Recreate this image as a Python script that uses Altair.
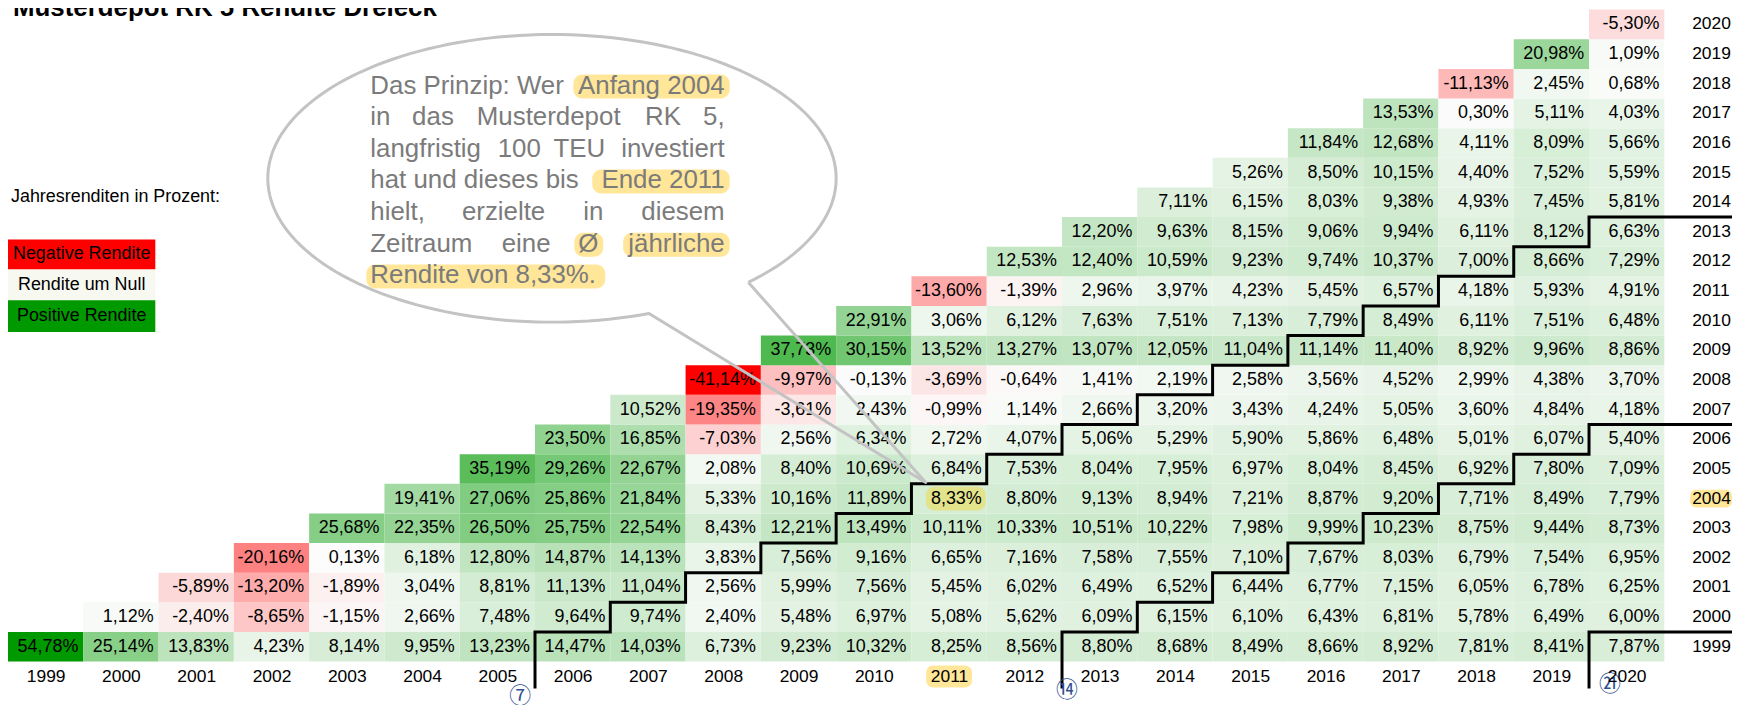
import math
import altair as alt
import pandas as pd

# ---------------- data ----------------
YEARS = list(range(1999, 2021))

r1999 = [54.78, 25.14, 13.83, 4.23, 8.14, 9.95, 13.23, 14.47, 14.03, 6.73, 9.23, 10.32, 8.25, 8.56, 8.80, 8.68, 8.49, 8.66, 8.92, 7.81, 8.41, 7.87]
r2000 = [1.12, -2.40, -8.65, -1.15, 2.66, 7.48, 9.64, 9.74, 2.40, 5.48, 6.97, 5.08, 5.62, 6.09, 6.15, 6.10, 6.43, 6.81, 5.78, 6.49, 6.00]
r2001 = [-5.89, -13.20, -1.89, 3.04, 8.81, 11.13, 11.04, 2.56, 5.99, 7.56, 5.45, 6.02, 6.49, 6.52, 6.44, 6.77, 7.15, 6.05, 6.78, 6.25]
r2002 = [-20.16, 0.13, 6.18, 12.80, 14.87, 14.13, 3.83, 7.56, 9.16, 6.65, 7.16, 7.58, 7.55, 7.10, 7.67, 8.03, 6.79, 7.54, 6.95]
r2003 = [25.68, 22.35, 26.50, 25.75, 22.54, 8.43, 12.21, 13.49, 10.11, 10.33, 10.51, 10.22, 7.98, 9.99, 10.23, 8.75, 9.44, 8.73]
r2004 = [19.41, 27.06, 25.86, 21.84, 5.33, 10.16, 11.89, 8.33, 8.80, 9.13, 8.94, 7.21, 8.87, 9.20, 7.71, 8.49, 7.79]
r2005 = [35.19, 29.26, 22.67, 2.08, 8.40, 10.69, 6.84, 7.53, 8.04, 7.95, 6.97, 8.04, 8.45, 6.92, 7.80, 7.09]
r2006 = [23.50, 16.85, -7.03, 2.56, 6.34, 2.72, 4.07, 5.06, 5.29, 5.90, 5.86, 6.48, 5.01, 6.07, 5.40]
r2007 = [10.52, -19.35, -3.61, 2.43, -0.99, 1.14, 2.66, 3.20, 3.43, 4.24, 5.05, 3.60, 4.84, 4.18]
r2008 = [-41.14, -9.97, -0.13, -3.69, -0.64, 1.41, 2.19, 2.58, 3.56, 4.52, 2.99, 4.38, 3.70]
r2009 = [37.73, 30.15, 13.52, 13.27, 13.07, 12.05, 11.04, 11.14, 11.40, 8.92, 9.96, 8.86]
r2010 = [22.91, 3.06, 6.12, 7.63, 7.51, 7.13, 7.79, 8.49, 6.11, 7.51, 6.48]
r2011 = [-13.60, -1.39, 2.96, 3.97, 4.23, 5.45, 6.57, 4.18, 5.93, 4.91]
r2012 = [12.53, 12.40, 10.59, 9.23, 9.74, 10.37, 7.00, 8.66, 7.29]
r2013 = [12.20, 9.63, 8.15, 9.06, 9.94, 6.11, 8.12, 6.63]
r2014 = [7.11, 6.15, 8.03, 9.38, 4.93, 7.45, 5.81]
r2015 = [5.26, 8.50, 10.15, 4.40, 7.52, 5.59]
r2016 = [11.84, 12.68, 4.11, 8.09, 5.66]
r2017 = [13.53, 0.30, 5.11, 4.03]
r2018 = [-11.13, 2.45, 0.68]
r2019 = [20.98, 1.09]
r2020 = [-5.30]

ROWS = [r1999, r2000, r2001, r2002, r2003, r2004, r2005, r2006, r2007, r2008, r2009,
        r2010, r2011, r2012, r2013, r2014, r2015, r2016, r2017, r2018, r2019, r2020]

HOLDING_PERIODS = [7, 14, 21]
CIRCLED = {7: "\u2466", 14: "\u246d", 21: "\u3251"}

TITLE = "Musterdepot RK 5 Rendite Dreieck"
LEGEND_TITLE = "Jahresrenditen in Prozent:"
LEGEND_ITEMS = ["Negative Rendite", "Rendite um Null", "Positive Rendite"]

# ---------------- layout ----------------
W, H = 1664, 655
LO, HI = 1998.5, 2020.5
PXX = W / (HI - LO)
PXY = H / (HI - LO)
FONT = "Liberation Sans"


def px_x(v):
    return (v - LO) * PXX


def px_y(v):
    return (HI - v) * PXY


records = []
for start, row in zip(YEARS, ROWS):
    for i, v in enumerate(row):
        end = start + i
        records.append({
            "start": start, "end": end, "v": v,
            "x0": end - 0.5, "x1": end + 0.5, "y0": start - 0.5, "y1": start + 0.5,
            "label": f"{v:.2f}".replace(".", ",") + "%",
        })
df = pd.DataFrame(records)
years_df = pd.DataFrame({"year": YEARS})

xs = alt.Scale(domain=[LO, HI], nice=False, zero=False)
ys = alt.Scale(domain=[LO, HI], nice=False, zero=False)
cs = alt.Scale(domain=[-41.14, 0, 54.78], range=["#ff0000", "#fcfcfc", "#009a00"], interpolate="rgb")

cells = alt.Chart(df).mark_rect().encode(
    x=alt.X("x0:Q", scale=xs, axis=alt.Axis(
        orient="bottom", values=YEARS, format="d", title=None, ticks=False, tickSize=0, domain=False,
        grid=False, zindex=1, labelFontSize=17.5, labelFont=FONT, labelColor="black",
        labelFlush=False, labelOverlap=False, labelPadding=15, labelBaseline="middle")),
    x2="x1:Q",
    y=alt.Y("y0:Q", scale=ys, axis=None),
    y2="y1:Q",
    color=alt.Color("v:Q", scale=cs, legend=None),
)

ONE = pd.DataFrame({"k": [0]})


def txt(s, x, y, align="left", baseline="alphabetic", size=18, color="black", font=FONT, weight="normal"):
    return alt.Chart(ONE).mark_text(text=s, align=align, baseline=baseline, fontSize=size, color=color,
                                    font=font, fontWeight=weight).encode(x=alt.value(x), y=alt.value(y))


def box(x, x2, y, y2, color, r=0, opacity=1.0):
    return alt.Chart(ONE).mark_rect(color=color, cornerRadius=r, opacity=opacity).encode(
        x=alt.value(x), x2=alt.value(x2), y=alt.value(y), y2=alt.value(y2))


# highlight of the example cell (start 2004, end 2011)
cx_r = px_x(2011.5)
cy_c = px_y(2004)
cell_hl = box(cx_r - 61, cx_r - 1, cy_c - 12, cy_c + 12, "#e2e38a", r=8)

labels = alt.Chart(df).mark_text(align="right", baseline="middle", dx=-5, fontSize=18, font=FONT, color="black").encode(
    x=alt.X("x1:Q", scale=xs), y=alt.Y("start:Q", scale=ys), text="label:N")

# highlighted axis labels (drawn before the row labels)
HL = "#ffe699"
axis_hl = [
    box(px_x(2011) - 23, px_x(2011) + 23, 659, 681, HL, r=7),
    box(1690, 1732, px_y(2004) - 9, px_y(2004) + 9, HL, r=6),
]

row_labels = alt.Chart(years_df).mark_text(align="left", baseline="middle", fontSize=17.5, font=FONT, color="black").encode(
    x=alt.value(W + 28), y=alt.Y("year:Q", scale=ys), text=alt.Text("year:Q", format="d"))

# staircase lines for holding periods
XRIGHT = LO + (W + 68) / PXX
YBOT = LO - 27 / PXY
steps = []
for k in HOLDING_PERIODS:
    o = 0
    s = 1999
    steps.append({"k": k, "o": o, "x": s + k - 0.5, "y": YBOT}); o += 1
    while True:
        x = s + k - 0.5
        steps.append({"k": k, "o": o, "x": x, "y": s + 0.5}); o += 1
        if x + 1 >= HI:
            steps.append({"k": k, "o": o, "x": XRIGHT, "y": s + 0.5}); o += 1
            break
        steps.append({"k": k, "o": o, "x": x + 1, "y": s + 0.5}); o += 1
        s += 1
steps_df = pd.DataFrame(steps)
stairs = alt.Chart(steps_df).mark_line(color="black", strokeWidth=3, strokeJoin="miter").encode(
    x=alt.X("x:Q", scale=xs), y=alt.Y("y:Q", scale=ys), detail="k:N", order="o:Q")

circ_off = {7: (-15, 690), 14: (5, 684), 21: (21, 678)}
circles = [txt(CIRCLED[k], px_x(1999 + k - 0.5) + circ_off[k][0], circ_off[k][1], align="center",
               baseline="middle", size=22, color="#2f4f8f", font="Noto Sans CJK JP") for k in HOLDING_PERIODS]

# speech bubble
BCX, BCY, BRX, BRY = 546.5, 169.5, 285.5, 144.5
TIP = (922.0, 475.0)
tA = math.acos(97.5 / BRX)
tB = math.asin(104.5 / BRY)
pts = []
N = 160
for i in range(N + 1):
    t = tB - (tB - (tA - 2 * math.pi)) * i / N
    pts.append((math.cos(t), BRY / BRX * math.sin(t)))
pts.append(((TIP[0] - BCX) / BRX, (TIP[1] - BCY) / BRX))
pts.append(pts[0])
path = "M " + " L ".join(f"{a:.4f} {b:.4f}" for a, b in pts)
bubble = alt.Chart(ONE).mark_point(shape=path, size=(2 * BRX) ** 2, filled=False, stroke="#c3c3c3",
                                   strokeWidth=3, opacity=1, strokeJoin="round").encode(
    x=alt.value(BCX), y=alt.value(BCY))

GRAY = "#7b7b7b"
L, R = 364, 720
base = [84.3 + 31.8 * i for i in range(7)]
bubble_hl = [
    box(568, 725, base[0] - 19, base[0] + 5, HL, r=9),
    box(587, 725, base[3] - 19, base[3] + 5, HL, r=9),
    box(569, 598, base[5] - 19, base[5] + 5, HL, r=9),
    box(618, 725, base[5] - 19, base[5] + 5, HL, r=9),
    box(360, 600, base[6] - 19, base[6] + 5, HL, r=9),
]
BT = dict(size=26, color=GRAY)
bubble_txt = [
    txt("Das Prinzip: Wer", L, base[0], **BT), txt("Anfang 2004", R, base[0], align="right", **BT),
    txt("in", L, base[1], **BT), txt("das", 406, base[1], **BT), txt("Musterdepot", 471, base[1], **BT),
    txt("RK", 640, base[1], **BT), txt("5,", R, base[1], align="right", **BT),
    txt("langfristig", L, base[2], **BT), txt("100", 492, base[2], **BT), txt("TEU", 548, base[2], **BT),
    txt("investiert", R, base[2], align="right", **BT),
    txt("hat und dieses bis", L, base[3], **BT), txt("Ende 2011", R, base[3], align="right", **BT),
    txt("hielt,", L, base[4], **BT), txt("erzielte", 456, base[4], **BT), txt("in", 578, base[4], **BT),
    txt("diesem", R, base[4], align="right", **BT),
    txt("Zeitraum", L, base[5], **BT), txt("eine", 496, base[5], **BT), txt("Ø", 573, base[5], **BT),
    txt("jährliche", R, base[5], align="right", **BT),
    txt("Rendite von 8,33%.", L, base[6], **BT),
]

# legend block on the left
legend = [
    txt(LEGEND_TITLE, 3, 188, baseline="middle", size=18),
    box(0, 148, 231, 261, "#ff0000"),
    box(0, 148, 261, 292, "#f7f9f1"),
    box(0, 148, 292, 324, "#009a00"),
    txt(LEGEND_ITEMS[0], 74, 246, align="center", baseline="middle", size=18),
    txt(LEGEND_ITEMS[1], 74, 276.5, align="center", baseline="middle", size=18),
    txt(LEGEND_ITEMS[2], 74, 308, align="center", baseline="middle", size=18),
]

# title: in the reference only its lower edge shows at the very top
title = txt(TITLE, 5, 6, size=26, weight="bold")

chart = alt.layer(
    cells, cell_hl, labels, stairs, bubble, *bubble_hl, *bubble_txt, *legend, *axis_hl, row_labels,
    *circles, title
).properties(
    width=W, height=H,
    padding={"left": 0, "top": 0, "right": 68, "bottom": 42},
    autosize=alt.AutoSizeParams(type="none"),
).configure_view(stroke=None)

chart.save("out.html", embed_options={"renderer": "svg", "actions": False})
